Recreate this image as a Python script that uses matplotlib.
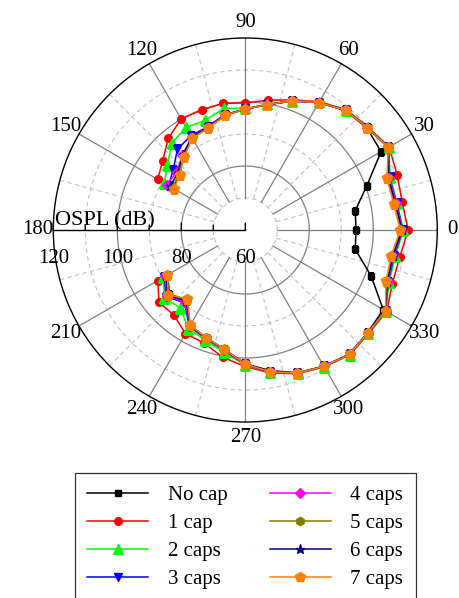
import numpy as np
import matplotlib
matplotlib.use('Agg')
import matplotlib.pyplot as plt

plt.rcParams['font.family'] = ['Liberation Serif', 'DejaVu Serif']

# measured angles (deg), gap between 150 and 210
angles = [210, 220, 230, 240, 250, 260, 270, 280, 290, 300, 310, 320, 330, 340, 350,
          0, 10, 20, 30, 40, 50, 60, 70, 80, 90, 100, 110, 120, 130, 140, 150]

no_cap = [88.0, 91.0, 88.6, 94.5, 95.8, 97.8, 101.8, 104.6, 107.5, 109.1, 110.6, 109.9, 109.8, 101.8, 94.9,
          94.6, 94.9, 100.4, 109.0, 109.6, 108.7, 106.0, 102.9, 99.8, 97.8, 96.3, 94.0, 93.2, 90.0, 87.0, 86.0]
cap1 = [91.6, 95.2, 94.7, 97.4, 97.6, 100.4, 102.7, 105.4, 107.8, 109.4, 110.9, 110.3, 111.0, 108.9, 109.0,
        110.9, 109.8, 110.5, 111.9, 110.1, 109.1, 106.3, 103.3, 101.2, 99.7, 100.2, 99.9, 100.1, 97.4, 93.7, 91.6]
cap2 = [89.6, 93.0, 91.7, 95.6, 96.6, 98.8, 102.2, 105.2, 107.7, 109.3, 110.8, 110.1, 110.7, 107.8, 107.6,
        109.4, 108.2, 108.2, 111.7, 109.9, 108.9, 106.1, 103.0, 99.9, 98.0, 98.6, 96.5, 97.0, 95.6, 91.8, 89.2]
cap3 = [89.2, 92.4, 89.6, 94.9, 96.1, 98.2, 102.0, 105.1, 107.6, 109.2, 110.7, 110.0, 110.6, 107.5, 107.2,
        109.2, 108.0, 108.0, 111.6, 109.8, 108.8, 106.0, 102.9, 99.8, 97.8, 96.6, 94.4, 94.0, 93.0, 89.4, 87.7]
cap4 = [88.8, 92.0, 89.3, 94.7, 96.0, 98.1, 102.0, 105.1, 107.6, 109.2, 110.7, 110.0, 110.6, 107.4, 107.0,
        109.1, 107.9, 107.9, 111.6, 109.8, 108.8, 106.0, 102.9, 99.8, 97.8, 96.6, 94.4, 93.5, 90.6, 88.0, 88.4]
cap5 = [88.3, 91.5, 88.4, 94.5, 95.9, 97.9, 101.9, 105.0, 107.6, 109.2, 110.7, 110.0, 110.6, 107.0, 106.6,
        108.8, 107.4, 107.4, 111.6, 109.8, 108.8, 106.0, 102.9, 99.8, 97.8, 96.4, 94.0, 93.2, 90.0, 87.0, 86.5]
cap6 = [88.5, 91.7, 88.8, 94.6, 95.9, 98.0, 101.9, 105.0, 107.6, 109.2, 110.7, 110.0, 110.6, 107.2, 106.8,
        109.0, 107.6, 107.6, 111.6, 109.8, 108.8, 106.0, 102.9, 99.8, 97.8, 96.5, 94.2, 93.4, 90.5, 87.6, 87.2]
cap7 = [88.2, 91.4, 88.2, 94.4, 95.8, 97.9, 101.9, 105.0, 107.6, 109.2, 110.7, 110.0, 110.6, 106.8, 106.3,
        108.4, 107.1, 107.1, 111.6, 109.8, 108.8, 106.0, 102.9, 99.8, 97.8, 96.4, 93.9, 93.1, 89.8, 86.7, 85.8]

labels = ['No cap', '1 cap', '2 caps', '3 caps', '4 caps', '5 caps', '6 caps', '7 caps']
series = [no_cap, cap1, cap2, cap3, cap4, cap5, cap6, cap7]
colors = ['#000000', '#ff0000', '#00ff00', '#0000ff', '#ff00ff', '#808000', '#000080', '#ff8000']
markers = ['s', 'o', '^', 'v', 'D', 'h', '*', 'p']
msizes = [5, 5.5, 6.5, 6, 5, 6, 6.5, 7]

r_ticks = [60, 70, 80, 90, 100, 110, 120]
r_labels = ['60', '', '80', '', '100', '', '120']

fs = 15

fig = plt.figure(figsize=(4.6, 5.98), dpi=100)
ax = fig.add_axes([53.3 / 460, 1 - 422 / 598, 384 / 460, 384 / 598], projection='polar')
ax.set_ylim(60, 120)
ax.grid(False)
ax.set_yticks([])

# circles
tt = np.linspace(0, 2 * np.pi, 400)
for r in [70, 90, 110]:
    ax.plot(tt, np.full_like(tt, r), color='#c0c0c0', lw=0.8, ls=(0, (4, 3)), zorder=1)
for r in [80, 100]:
    ax.plot(tt, np.full_like(tt, r), color='#808080', lw=0.9, zorder=1)
# spokes
for d in range(0, 360, 30):
    if d == 180:
        continue
    ax.plot([np.radians(d)] * 2, [70, 120], color='#808080', lw=0.9, zorder=1)
for d in range(15, 360, 30):
    ax.plot([np.radians(d)] * 2, [70, 120], color='#c0c0c0', lw=0.8, ls=(0, (4, 3)), zorder=1)

# radial axis along 180 deg
ax.plot([np.pi, np.pi], [60, 120], color='k', lw=1, zorder=2, clip_on=False)
for r, lab in zip(r_ticks, r_labels):
    L = 5 if lab else 3.5
    ax.annotate('', xy=(np.pi, r), xytext=(0, L), textcoords='offset points',
                arrowprops=dict(arrowstyle='-', lw=1, color='k', shrinkA=0, shrinkB=0),
                annotation_clip=False)
    if lab:
        ax.annotate(lab, xy=(np.pi, r), xytext=(0, -13.5), textcoords='offset points',
                    ha='center', va='top', fontsize=fs, annotation_clip=False)
ax.annotate('OSPL (dB)', xy=(np.pi, 120), xytext=(1, 0), textcoords='offset points',
            ha='left', va='bottom', fontsize=16, annotation_clip=False)

# data
th = np.radians(angles)
for vals, lab, c, m, ms in zip(series, labels, colors, markers, msizes):
    ax.plot(th, vals, color=c, marker=m, markersize=ms, lw=1.1, label=lab, zorder=3)

# theta axis
ax.set_xticks(np.radians(np.arange(0, 360, 30)))
ax.set_xticklabels([str(d) for d in range(0, 360, 30)], fontsize=fs)
ax.set_xticks(np.radians(np.arange(15, 360, 30)), minor=True)
ax.tick_params(axis='x', which='major', direction='out', length=5, width=1, pad=-1)
ax.tick_params(axis='x', which='minor', direction='out', length=3, width=1)
ax.spines['polar'].set_color('k')
ax.spines['polar'].set_linewidth(1)

leg = fig.legend(loc='upper left', bbox_to_anchor=(75 / 460, 1 - 473 / 598), ncol=2,
                 fontsize=fs, frameon=True, fancybox=False, edgecolor='k',
                 handlelength=2.9, handletextpad=0.95, columnspacing=2.05,
                 borderpad=0.6, labelspacing=0.4, borderaxespad=0)
leg.get_frame().set_linewidth(0.9)

fig.savefig('out.png', dpi=100)
